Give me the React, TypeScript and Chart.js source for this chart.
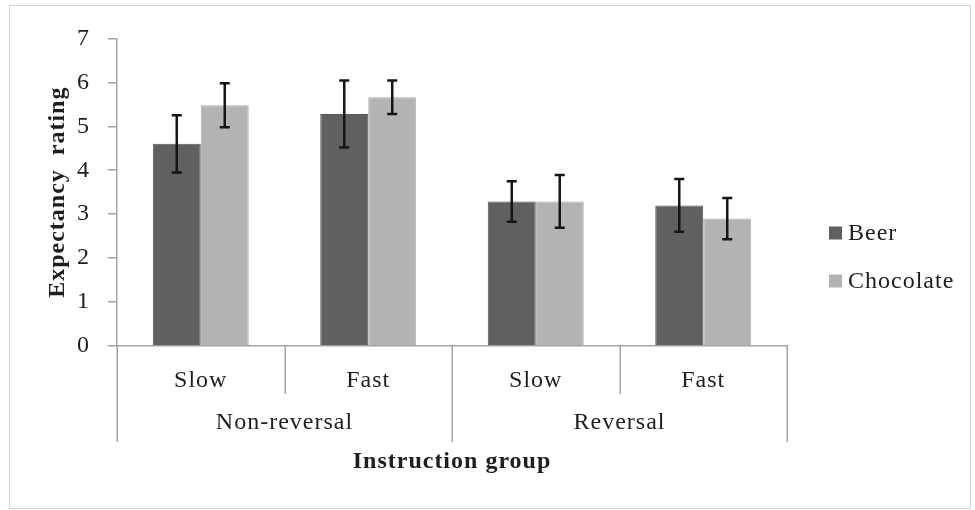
import React, { useEffect, useRef } from "react";
import { Chart, registerables } from "chart.js";
Chart.register(...registerables);

const categories = ["Slow", "Fast", "Slow", "Fast"];
const groups = ["Non-reversal", "Reversal"];
const seriesNames = ["Beer", "Chocolate"];
const beerValues = [4.6, 5.28, 3.29, 3.2];
const chocolateValues = [5.48, 5.66, 3.29, 2.9];
const beerErrors = [0.65, 0.76, 0.46, 0.6];
const chocolateErrors = [0.5, 0.38, 0.6, 0.47];
const seriesColors = ["#606060", "#b3b3b3"];
const yMin = 0;
const yMax = 7;
const yStep = 1;
const xTitle = "Instruction group";
const yTitle = "Expectancy  rating";

const FONT = "'Liberation Serif', 'Times New Roman', serif";
const TEXT = "#1e1e1e";
const AXIS = "#a3a3a3";

const errorBarPlugin = {
  id: "errorBars",
  afterDatasetsDraw(chart: any) {
    const ctx = chart.ctx;
    const ys = chart.scales.y;
    chart.data.datasets.forEach((ds: any, di: number) => {
      const meta = chart.getDatasetMeta(di);
      meta.data.forEach((bar: any, i: number) => {
        const v = ds.data[i];
        const e = ds.errors[i];
        const x = bar.x;
        const yt = ys.getPixelForValue(v + e);
        const yb = ys.getPixelForValue(v - e);
        ctx.save();
        ctx.strokeStyle = "#151515";
        ctx.lineWidth = 2.5;
        ctx.beginPath();
        ctx.moveTo(x, yt);
        ctx.lineTo(x, yb);
        ctx.moveTo(x - 5, yt);
        ctx.lineTo(x + 5, yt);
        ctx.moveTo(x - 5, yb);
        ctx.lineTo(x + 5, yb);
        ctx.stroke();
        ctx.restore();
      });
    });
  },
};

const decorPlugin = {
  id: "decor",
  beforeDraw(chart: any) {
    (chart.ctx as any).letterSpacing = "1px";
  },
  afterDraw(chart: any) {
    const ctx = chart.ctx;
    const xs = chart.scales.x;
    const n = categories.length;
    const w = (xs.right - xs.left) / n;
    const base = chart.chartArea.bottom;
    ctx.save();
    ctx.strokeStyle = AXIS;
    ctx.lineWidth = 1.5;
    for (let i = 0; i <= n; i++) {
      const x = Math.round(xs.left + w * i) + 0.25;
      const len = i % 2 === 0 ? 96 : 48;
      ctx.beginPath();
      ctx.moveTo(x, base);
      ctx.lineTo(x, base + len);
      ctx.stroke();
    }
    ctx.fillStyle = TEXT;
    ctx.font = `24px ${FONT}`;
    (ctx as any).letterSpacing = "1px";
    ctx.textAlign = "center";
    ctx.textBaseline = "middle";
    groups.forEach((g, gi) => {
      const cx = xs.left + w * (2 * gi + 1);
      ctx.fillText(g, cx, base + 77);
    });
    // legend
    const lx = chart.chartArea.right + 42;
    const cy = chart.height / 2;
    ctx.textAlign = "left";
    chart.data.datasets.forEach((ds: any, di: number) => {
      const y = cy + (di - 0.5) * 48;
      ctx.fillStyle = ds.backgroundColor;
      ctx.fillRect(lx, y - 6.5, 13, 13);
      ctx.fillStyle = TEXT;
      ctx.fillText(ds.label, lx + 19, y + 1);
    });
    ctx.restore();
    (ctx as any).letterSpacing = "0px";
  },
};

export default function App() {
  const ref = useRef<HTMLCanvasElement>(null);
  useEffect(() => {
    if (!ref.current) return;
    const chart = new Chart(ref.current, {
      type: "bar",
      data: {
        labels: categories,
        datasets: [
          {
            label: seriesNames[0],
            data: beerValues,
            errors: beerErrors,
            backgroundColor: seriesColors[0],
            borderColor: "#575757",
            borderWidth: 1,
          } as any,
          {
            label: seriesNames[1],
            data: chocolateValues,
            errors: chocolateErrors,
            backgroundColor: seriesColors[1],
            borderColor: "#ababab",
            borderWidth: 1,
          } as any,
        ],
      },
      options: {
        animation: false,
        responsive: true,
        maintainAspectRatio: false,
        layout: { padding: { top: 27, right: 183, left: 0, bottom: 0 } },
        datasets: { bar: { categoryPercentage: 0.573, barPercentage: 1 } },
        plugins: { legend: { display: false }, tooltip: { enabled: false } },
        scales: {
          x: {
            afterFit(scale: any) {
              scale.height = 162;
            },
            grid: { display: false, drawTicks: false },
            border: { display: true, color: AXIS, width: 1.5 },
            ticks: { color: TEXT, font: { family: FONT, size: 24 }, padding: 20 },
            title: {
              display: true,
              text: xTitle,
              color: TEXT,
              font: { family: FONT, size: 24, weight: "bold" },
              padding: { top: 0, bottom: 31.6 },
            },
          },
          y: {
            min: yMin,
            max: yMax,
            afterFit(scale: any) {
              scale.width = 107;
            },
            ticks: { stepSize: yStep, color: TEXT, font: { family: FONT, size: 24 }, padding: 18 },
            grid: { drawOnChartArea: false, drawTicks: true, tickLength: 9, color: AXIS, lineWidth: 1.5 },
            border: { display: true, color: AXIS, width: 1.5 },
            title: {
              display: true,
              text: yTitle,
              color: TEXT,
              font: { family: FONT, size: 24, weight: "bold" },
              padding: { top: 33.6, bottom: 0 },
            },
          },
        },
      },
      plugins: [errorBarPlugin, decorPlugin],
    });
    return () => chart.destroy();
  }, []);
  return (
    <div
      style={{
        position: "absolute",
        left: 9,
        top: 5,
        width: 962,
        height: 504,
        border: "1px solid #d4d4d4",
        boxSizing: "border-box",
        background: "#fff",
      }}
    >
      <div style={{ position: "relative", width: 960, height: 502 }}>
        <canvas ref={ref} />
      </div>
    </div>
  );
}
